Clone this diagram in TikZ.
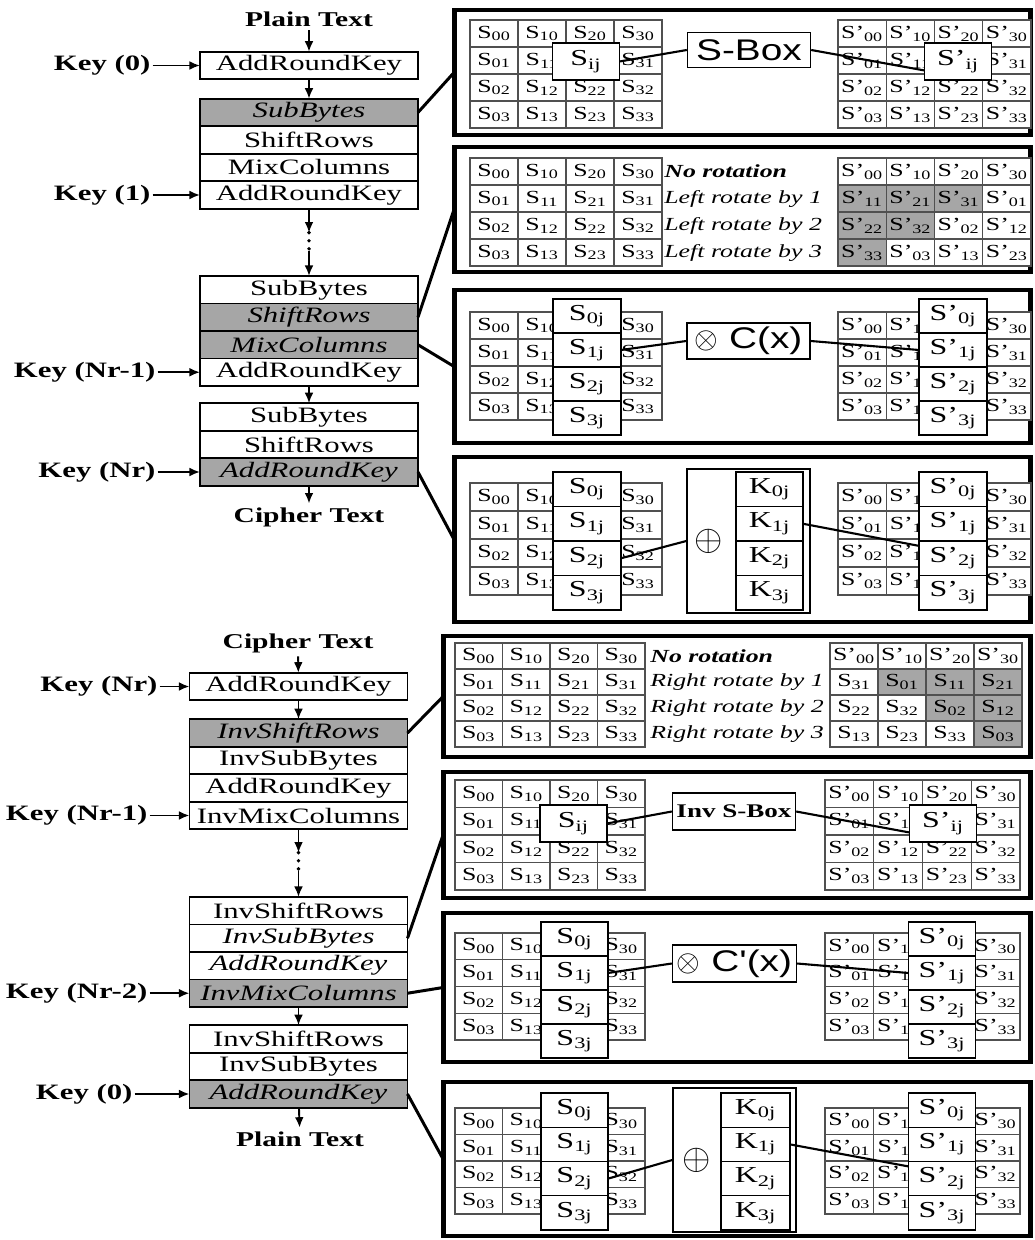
\documentclass[tikz,border=0pt]{standalone}
\usepackage{fontspec}
\setmainfont[FakeStretch=1.4]{Liberation Serif}
\newfontfamily\arialfont[FakeStretch=1.3]{Liberation Sans}
\usepackage{xcolor}
\usepackage{tikz}
\usetikzlibrary{positioning, arrows.meta}
\definecolor{hatchgray}{HTML}{A6A6A6}
\definecolor{gridline}{HTML}{505050}

\tikzset{
    stage/.style={draw, line width=1.1pt, outer sep=0pt, inner sep=0pt,
        minimum width=4.36cm, minimum height=0.55cm, font=\fontsize{12.5}{12.5}\selectfont},
    slant/.style={stage, font=\fontsize{12.5}{12.5}\selectfont\itshape},
    hot/.style={slant, fill=hatchgray},
    keylbl/.style={font=\fontsize{12.5}{12.5}\selectfont\bfseries, inner sep=1pt},
    io/.style={font=\fontsize{12}{12}\selectfont\bfseries, inner sep=2pt},
    gap/.style={inner sep=0pt, minimum width=4pt, minimum height=0.36cm},
    dots/.style={line width=2.2pt, line cap=round, dash pattern=on 0pt off 4.6pt},
    flow/.style={-{Latex[length=6pt, width=5pt]}, line width=1.1pt},
    panel/.style={draw, line width=2.8pt, inner sep=0pt, outer sep=0pt},
    link/.style={line width=1.7pt},
    wire/.style={line width=1.2pt},
    cell/.style 2 args={draw=gridline, line width=0.6pt, fill=white, inner sep=0pt, outer sep=0pt,
        minimum width=#1*0.02cm, minimum height=#2*0.02cm, font=\fontsize{10.5}{10.5}\selectfont},
    pick/.style 2 args={draw, line width=0.8pt, fill=white, inner sep=0pt, outer sep=0pt,
        minimum width=#1*0.02cm, minimum height=#2*0.02cm, font=\fontsize{13}{13}\selectfont},
    op/.style 2 args={draw, line width=0.8pt, fill=white, inner sep=0pt,
        minimum width=#1*0.02cm, minimum height=#2*0.02cm},
    rot/.style={anchor=west, inner sep=0pt, font=\fontsize{10.5}{10.5}\selectfont\itshape},
}

% 4x4 state: name, left x, top y, cell width, cell height, letter,
% column and row left blank under a box (row -1: whole column)
\newcommand{\stategrid}[8]{%
    \foreach \cx in {0,...,3}{%
        \foreach \ry in {0,...,3}{%
            \pgfmathtruncatemacro\hide{(\cx==#7)&&((#8<0)||(\ry==#8))}
            \node[cell={#4}{#5}] (#1\cx\ry) at ({#2+(\cx+0.5)*#4}, {#3+(\ry+0.5)*#5})
                {\ifnum\hide=1 \else #6\textsubscript{\cx\ry}\fi};
        }%
    }%
}
% one column: name, centre x, top y, width, height, letter
\newcommand{\colstack}[6]{%
    \foreach \ry in {0,...,3}{%
        \node[pick={#4}{#5}] (#1\ry) at (#2, {#3+(\ry+0.5)*#5}) {#6\textsubscript{\ry j}};
    }%
}

\begin{document}
\begin{tikzpicture}[x=0.02cm, y=-0.02cm]
    \useasboundingbox (0,0) rectangle (1034,1240);

    % encryption
    \node[io] (pt1) at (309,19) {Plain Text};
    \node[stage] (ark0) at (309,65.5) {AddRoundKey};
    \node[hot] (sb1) at (309,112.5) {SubBytes};
    \node[stage, below=0pt of sb1] (sr1) {ShiftRows};
    \node[stage, below=0pt of sr1] (mc1) {MixColumns};
    \node[stage, below=0pt of mc1] (ark1) {AddRoundKey};
    \node[gap] (gap1) at (309,242) {};
    \node[stage] (sb2) at (309,289.75) {SubBytes};
    \node[hot, below=0pt of sb2] (sr2) {ShiftRows};
    \node[hot, below=0pt of sr2] (mc2) {MixColumns};
    \node[stage, below=0pt of mc2] (ark2) {AddRoundKey};
    \node[stage] (sb3) at (309,417) {SubBytes};
    \node[stage, below=0pt of sb3] (sr3) {ShiftRows};
    \node[hot, below=0pt of sr3] (ark3) {AddRoundKey};
    \node[io] (ct1) at (309,517) {Cipher Text};

    \node[keylbl, left=0.95cm of ark0] (k0) {Key (0)};
    \node[keylbl, left=0.95cm of ark1] (k1) {Key (1)};
    \node[keylbl, left=0.85cm of ark2] (k2) {Key (Nr-1)};
    \node[keylbl, left=0.85cm of ark3] (k3) {Key (Nr)};

    \draw[flow] (pt1) -- (ark0);
    \draw[flow] (ark0) -- (sb1);
    \draw[flow] (ark1) -- (gap1);
    \draw[dots] (gap1.north) -- (gap1.south);
    \draw[flow] (gap1) -- (sb2);
    \draw[flow] (ark2) -- (sb3);
    \draw[flow] (ark3) -- (ct1);
    \draw[flow] (k0) -- (ark0);
    \draw[flow] (k1) -- (ark1);
    \draw[flow] (k2) -- (ark2);
    \draw[flow] (k3) -- (ark3);

    % decryption
    \node[io] (ct2) at (298,643) {Cipher Text};
    \node[stage] (ark4) at (298.5,686.5) {AddRoundKey};
    \node[hot] (isr1) at (298.5,733) {InvShiftRows};
    \node[stage, below=0pt of isr1] (isb1) {InvSubBytes};
    \node[stage, below=0pt of isb1] (ark5) {AddRoundKey};
    \node[stage, below=0pt of ark5] (imc1) {InvMixColumns};
    \node[gap] (gap2) at (298.5,862) {};
    \node[stage] (isr2) at (298.5,910.75) {InvShiftRows};
    \node[slant, below=0pt of isr2] (isb2) {InvSubBytes};
    \node[slant, below=0pt of isb2] (ark6) {AddRoundKey};
    \node[hot, below=0pt of ark6] (imc2) {InvMixColumns};
    \node[stage] (isr3) at (298.5,1039) {InvShiftRows};
    \node[stage, below=0pt of isr3] (isb3) {InvSubBytes};
    \node[hot, below=0pt of isb3] (ark7) {AddRoundKey};
    \node[io] (pt2) at (300,1139) {Plain Text};

    \node[keylbl, left=0.6cm of ark4] (k4) {Key (Nr)};
    \node[keylbl, left=0.8cm of imc1] (k5) {Key (Nr-1)};
    \node[keylbl, left=0.8cm of imc2] (k6) {Key (Nr-2)};
    \node[keylbl, left=1.1cm of ark7] (k7) {Key (0)};

    \draw[flow] (ct2) -- (ark4);
    \draw[flow] (ark4) -- (isr1);
    \draw[flow] (imc1) -- (gap2);
    \draw[dots] (gap2.north) -- (gap2.south);
    \draw[flow] (gap2) -- (isr2);
    \draw[flow] (imc2) -- (isr3);
    \draw[flow] (ark7) -- (pt2);
    \draw[flow] (k4) -- (ark4);
    \draw[flow] (k5) -- (imc1);
    \draw[flow] (k6) -- (imc2);
    \draw[flow] (k7) -- (ark7);

    % panels
    \node[panel, minimum width=11.54cm, minimum height=2.5cm] (p1) at (742.5,72.5) {};
    \node[panel, minimum width=11.54cm, minimum height=2.5cm] (p2) at (742.5,209.5) {};
    \node[panel, minimum width=11.54cm, minimum height=3.06cm] (p3) at (742.5,366.5) {};
    \node[panel, minimum width=11.54cm, minimum height=3.3cm] (p4) at (742.5,539.5) {};
    \node[panel, minimum width=11.76cm, minimum height=2.42cm] (p5) at (737,696.5) {};
    \node[panel, minimum width=11.76cm, minimum height=2.52cm] (p6) at (737,835) {};
    \node[panel, minimum width=11.76cm, minimum height=2.98cm] (p7) at (737,987.5) {};
    \node[panel, minimum width=11.76cm, minimum height=3.08cm] (p8) at (737,1159) {};

    \draw[link] (sb1.east) -- (p1.west);
    \draw[link] (sr2.east) -- (p2.west);
    \draw[link] (mc2.east) -- (p3.west);
    \draw[link] (ark3.east) -- (p4.west);
    \draw[link] (isr1.east) -- (p5.west);
    \draw[link] (isb2.east) -- (p6.west);
    \draw[link] (imc2.east) -- (p7.west);
    \draw[link] (ark7.east) -- (p8.west);

    % SubBytes
    \stategrid{p1a}{470}{20}{48}{27}{S}{2}{1}
    \stategrid{p1b}{838}{20}{48.25}{27}{S'}{2}{1}
    \node[pick={67}{37}] (p1s) at (586,61.5) {S\textsubscript{ij}};
    \node[pick={67}{37}] (p1t) at (958,61.5) {S'\textsubscript{ij}};
    \node[op={123}{35}, font=\arialfont\fontsize{17}{17}\selectfont] (p1op) at (749,50) {S-Box};
    \draw[wire] (p1s.east) -- (p1op.west);
    \draw[wire] (p1op.east) -- (p1t.195);

    % ShiftRows
    \stategrid{p2a}{470}{158}{48}{27}{S}{9}{-1}
    \foreach \cx in {0,...,3}{
        \foreach \ry in {0,...,3}{
            \pgfmathtruncatemacro\src{mod(\cx+\ry,4)}
            \pgfmathtruncatemacro\onoff{(\ry>0)&&(\cx+\ry<4)}
            \ifnum\onoff=1 \def\cellfill{hatchgray}\else\def\cellfill{white}\fi
            \node[cell={48.25}{27}, fill=\cellfill] (p2b\cx\ry) at ({838+(\cx+0.5)*48.25},{158+(\ry+0.5)*27}) {S'\textsubscript{\src\ry}};
        }
    }
    \node[rot, font=\fontsize{10.5}{10.5}\selectfont\bfseries\itshape] (p2l0) at (664,171.5) {No rotation};
    \foreach \ry in {1,2,3}
        \node[rot] (p2l\ry) at (664,{158+(\ry+0.5)*27}) {Left rotate by \ry};

    % MixColumns
    \stategrid{p3a}{470}{312}{48}{27}{S}{2}{-1}
    \stategrid{p3b}{838}{312}{48.25}{27}{S'}{2}{-1}
    \colstack{p3s}{587}{299}{68}{34}{S}
    \colstack{p3t}{953}{299}{68}{34}{S'}
    \node[op={123}{36}, font=\arialfont\fontsize{17}{17}\selectfont] (p3op) at (748.5,341) {$\otimes$ C(x)};
    \draw[wire] (p3s1.east) -- (p3op.west);
    \draw[wire] (p3op.east) -- (p3t1.west);

    % AddRoundKey
    \stategrid{p4a}{470}{483}{48}{28}{S}{2}{-1}
    \stategrid{p4b}{838}{483}{48.25}{28}{S'}{2}{-1}
    \colstack{p4s}{587}{472}{68}{34.5}{S}
    \colstack{p4t}{953}{472}{68}{34.5}{S'}
    \node[op={123}{144}] (p4op) at (748.5,541) {};
    \node[font=\fontsize{22}{22}\selectfont] (p4plus) at (709,541) {$\oplus$};
    \colstack{p4k}{769.5}{472}{67}{34.5}{K}
    \draw[wire] (p4s2.east) -- (p4op.west);
    \draw[wire] (p4k1.east) -- (p4t2.160);

    % InvShiftRows
    \stategrid{p5a}{455}{643}{47.5}{26}{S}{9}{-1}
    \foreach \cx in {0,...,3}{
        \foreach \ry in {0,...,3}{
            \pgfmathtruncatemacro\src{mod(\cx-\ry+4,4)}
            \pgfmathtruncatemacro\onoff{(\ry>0)&&(\cx+1>\ry)}
            \ifnum\onoff=1 \def\cellfill{hatchgray}\else\def\cellfill{white}\fi
            \ifnum\ry=0 \def\primemark{'}\else\def\primemark{}\fi
            \node[cell={48}{26}, fill=\cellfill] (p5b\cx\ry) at ({830+(\cx+0.5)*48},{643+(\ry+0.5)*26}) {S\primemark\textsubscript{\src\ry}};
        }
    }
    \node[rot, font=\fontsize{10.5}{10.5}\selectfont\bfseries\itshape] (p5l0) at (650,656) {No rotation};
    \foreach \ry in {1,2,3}
        \node[rot] (p5l\ry) at (650,{643+(\ry+0.5)*26}) {Right rotate by \ry};

    % InvSubBytes
    \stategrid{p6a}{455}{780}{47.5}{27.5}{S}{2}{1}
    \stategrid{p6b}{825}{780}{48.75}{27.5}{S'}{2}{1}
    \node[pick={67}{37}] (p6s) at (573.5,823.5) {S\textsubscript{ij}};
    \node[pick={67}{37}] (p6t) at (943,823.5) {S'\textsubscript{ij}};
    \node[op={123}{37}, font=\fontsize{11}{11}\selectfont\bfseries] (p6op) at (734,811.5) {Inv S-Box};
    \draw[wire] (p6s.east) -- (p6op.west);
    \draw[wire] (p6op.east) -- (p6t.195);

    % InvMixColumns
    \stategrid{p7a}{455}{933}{47.5}{26.75}{S}{2}{-1}
    \stategrid{p7b}{825}{933}{48.75}{26.75}{S'}{2}{-1}
    \colstack{p7s}{574.5}{922}{67}{34}{S}
    \colstack{p7t}{942}{922}{67}{34}{S'}
    \node[op={124}{37}, font=\arialfont\fontsize{17}{17}\selectfont] (p7op) at (734.5,963.5) {$\otimes$ C'(x)};
    \draw[wire] (p7s1.east) -- (p7op.west);
    \draw[wire] (p7op.east) -- (p7t1.west);

    % AddRoundKey
    \stategrid{p8a}{455}{1108}{47.5}{26.5}{S}{2}{-1}
    \stategrid{p8b}{825}{1108}{48.75}{26.5}{S'}{2}{-1}
    \colstack{p8s}{574.5}{1093}{67}{34.25}{S}
    \colstack{p8t}{942}{1093}{67}{34.25}{S'}
    \node[op={123}{144}] (p8op) at (734.5,1160) {};
    \node[font=\fontsize{22}{22}\selectfont] (p8plus) at (697,1160) {$\oplus$};
    \colstack{p8k}{755.5}{1093}{69}{34.25}{K}
    \draw[wire] (p8s2.east) -- (p8op.west);
    \draw[wire] (p8k1.east) -- (p8t2.160);
\end{tikzpicture}
\end{document}
